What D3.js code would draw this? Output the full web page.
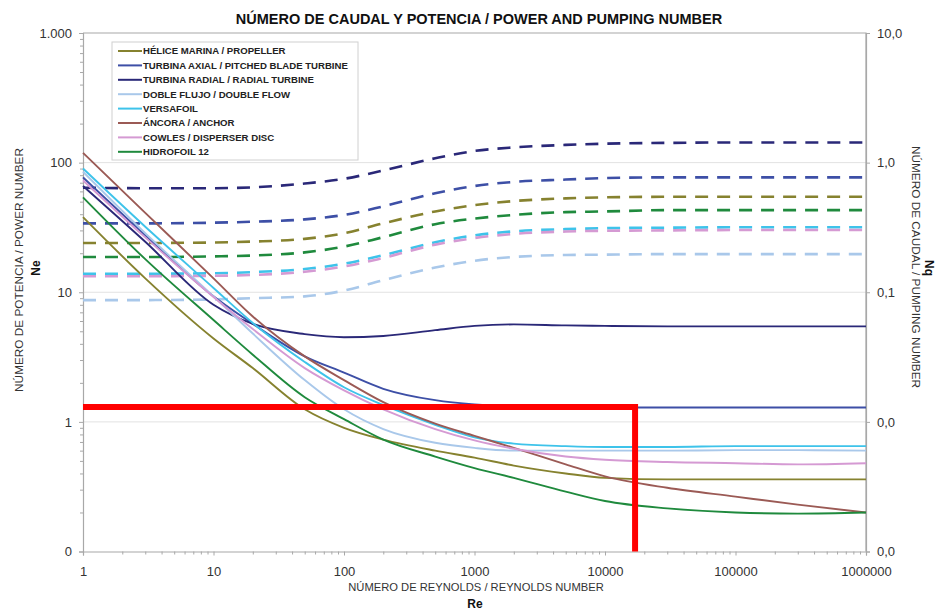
<!DOCTYPE html>
<html>
<head>
<meta charset="utf-8">
<script src="https://cdn.jsdelivr.net/npm/d3@7"></script>
<style>
  body { margin: 0; background: #fff; }
  svg { font-family: "Liberation Sans", Arial, sans-serif; }
</style>
</head>
<body>
<svg id="chart" width="938" height="610"></svg>
<script>
// Reynolds numbers where the curves were read
const RE = [1, 3, 10, 20, 50, 100, 200, 500, 1000, 2000, 5000, 10000, 30000, 100000, 300000, 1000000];

const SERIES_NAMES = [
  "HÉLICE MARINA / PROPELLER",
  "TURBINA AXIAL / PITCHED BLADE TURBINE",
  "TURBINA RADIAL / RADIAL TURBINE",
  "DOBLE FLUJO / DOUBLE FLOW",
  "VERSAFOIL",
  "ÁNCORA / ANCHOR",
  "COWLES / DISPERSER DISC",
  "HIDROFOIL 12",
];

// power number Ne (left axis)
const NE_PROPELLER = [38, 12.8, 4.4, 2.6, 1.25, 0.9, 0.73, 0.6, 0.53, 0.46, 0.4, 0.37, 0.36, 0.36, 0.36, 0.36];
const NE_PITCHED = [77, 27.5, 9.3, 5.7, 3.2, 2.4, 1.8, 1.47, 1.36, 1.31, 1.29, 1.29, 1.29, 1.29, 1.29, 1.29];
const NE_RADIAL = [66, 24.5, 8.0, 5.7, 4.75, 4.5, 4.6, 5.1, 5.5, 5.65, 5.55, 5.5, 5.45, 5.45, 5.45, 5.45];
const NE_DOUBLE = [85, 28.5, 9.3, 4.8, 2.1, 1.25, 0.88, 0.69, 0.63, 0.6, 0.6, 0.6, 0.6, 0.605, 0.605, 0.6];
const NE_VERSAFOIL = [90, 32, 10.8, 5.8, 2.9, 1.85, 1.35, 0.95, 0.76, 0.68, 0.65, 0.64, 0.64, 0.65, 0.65, 0.65];
const NE_ANCHOR = [119, 41, 12.8, 6.5, 3.2, 2.1, 1.42, 0.97, 0.78, 0.63, 0.47, 0.38, 0.31, 0.265, 0.23, 0.2];
const NE_COWLES = [73, 26.5, 9.2, 5.2, 2.6, 1.75, 1.25, 0.88, 0.72, 0.62, 0.54, 0.51, 0.49, 0.48, 0.47, 0.48];
const NE_HIDROFOIL = [54, 18, 6.1, 3.3, 1.55, 1.05, 0.73, 0.54, 0.44, 0.37, 0.29, 0.245, 0.215, 0.2, 0.196, 0.2];

// pumping number Nq (right axis)
const NQ_PROPELLER = [0.24, 0.24, 0.242, 0.246, 0.258, 0.285, 0.34, 0.42, 0.47, 0.505, 0.53, 0.54, 0.545, 0.545, 0.545, 0.545];
const NQ_PITCHED = [0.34, 0.34, 0.344, 0.35, 0.365, 0.395, 0.46, 0.58, 0.66, 0.71, 0.74, 0.76, 0.77, 0.77, 0.77, 0.77];
const NQ_RADIAL = [0.64, 0.635, 0.635, 0.645, 0.69, 0.75, 0.87, 1.08, 1.23, 1.31, 1.37, 1.4, 1.42, 1.43, 1.43, 1.43];
const NQ_DOUBLE = [0.087, 0.087, 0.088, 0.09, 0.093, 0.103, 0.124, 0.155, 0.175, 0.187, 0.194, 0.195, 0.197, 0.197, 0.197, 0.197];
const NQ_VERSAFOIL = [0.139, 0.139, 0.14, 0.143, 0.151, 0.166, 0.193, 0.243, 0.275, 0.295, 0.307, 0.312, 0.315, 0.317, 0.317, 0.317];
const NQ_COWLES = [0.133, 0.133, 0.134, 0.136, 0.144, 0.158, 0.184, 0.233, 0.262, 0.282, 0.294, 0.298, 0.3, 0.302, 0.302, 0.302];
const NQ_HIDROFOIL = [0.187, 0.187, 0.189, 0.192, 0.203, 0.225, 0.266, 0.335, 0.37, 0.395, 0.415, 0.42, 0.43, 0.43, 0.43, 0.43];

const X_TICKS = [1, 10, 100, 1000, 10000, 100000, 1000000];
const X_TICK_LABELS = ["1", "10", "100", "1000", "10000", "100000", "1000000"];
const LEFT_TICKS = [0.1, 1, 10, 100, 1000];
const LEFT_TICK_LABELS = ["0", "1", "10", "100", "1.000"];
const RIGHT_TICKS = [0.001, 0.01, 0.1, 1, 10];
const RIGHT_TICK_LABELS = ["0,0", "0,0", "0,1", "1,0", "10,0"];

// red reference mark
const REF_RE = 17000;
const REF_NE = 1.3;

const COLORS = ["#86822f", "#3d4fa6", "#2a2878", "#a9c8ea", "#3ec3ea", "#9b5a55", "#d59ad3", "#1f8a3d"];

const neSeries = [NE_PROPELLER, NE_PITCHED, NE_RADIAL, NE_DOUBLE, NE_VERSAFOIL, NE_ANCHOR, NE_COWLES, NE_HIDROFOIL];
// no pumping curve for the anchor
const nqSeries = [NQ_PROPELLER, NQ_PITCHED, NQ_RADIAL, NQ_DOUBLE, NQ_VERSAFOIL, null, NQ_COWLES, NQ_HIDROFOIL];

const svg = d3.select("#chart");
const margin = { top: 33, left: 83, right: 72, bottom: 58.5 };
const width = 938, height = 610;

const x = d3.scaleLog().domain([1, 1e6]).range([margin.left, width - margin.right]);
const y = d3.scaleLog().domain([0.1, 1000]).range([height - margin.bottom, margin.top]);
const yR = d3.scaleLog().domain([0.001, 10]).range([height - margin.bottom, margin.top]);

const axisGray = "#a8a8a8";

// grid lines
svg.append("g")
  .selectAll("line")
  .data([1, 10, 100])
  .join("line")
  .attr("x1", x(1)).attr("x2", x(1e6))
  .attr("y1", d => y(d)).attr("y2", d => y(d))
  .attr("stroke", "#e2e2e2").attr("stroke-width", 1);

// frame top & right
svg.append("path")
  .attr("d", `M${x(1)},${y(1000)}H${x(1e6)}V${y(0.1)}`)
  .attr("fill", "none").attr("stroke", axisGray).attr("stroke-width", 1.2);

function minorTicks(lo, hi) {
  const out = [];
  for (let p = lo; p < hi; p *= 10) {
    for (let k = 2; k <= 9; k++) out.push(p * k);
  }
  return out;
}

function styleAxis(g) {
  g.select(".domain").attr("stroke", axisGray).attr("stroke-width", 1.2);
  g.selectAll(".tick line").attr("stroke", axisGray);
  g.selectAll(".tick text").attr("fill", "#333").style("font-size", "13px");
}

// x axis
const xAxisG = svg.append("g")
  .attr("transform", `translate(0,${y(0.1)})`)
  .call(d3.axisBottom(x).tickValues(X_TICKS).tickSize(4).tickPadding(11)
    .tickFormat((d, i) => X_TICK_LABELS[i]));
styleAxis(xAxisG);
svg.append("g")
  .attr("transform", `translate(0,${y(0.1)})`)
  .call(d3.axisBottom(x).tickValues(minorTicks(1, 1e6)).tickSize(3).tickFormat(""))
  .call(g => { g.select(".domain").remove(); g.selectAll("line").attr("stroke", axisGray); });

// left axis
const yAxisG = svg.append("g")
  .attr("transform", `translate(${x(1)},0)`)
  .call(d3.axisLeft(y).tickValues(LEFT_TICKS).tickSize(4).tickPadding(7)
    .tickFormat((d, i) => LEFT_TICK_LABELS[i]));
styleAxis(yAxisG);
svg.append("g")
  .attr("transform", `translate(${x(1)},0)`)
  .call(d3.axisLeft(y).tickValues(minorTicks(0.1, 1000)).tickSize(3).tickFormat(""))
  .call(g => { g.select(".domain").remove(); g.selectAll("line").attr("stroke", axisGray); });

// right axis
const yRAxisG = svg.append("g")
  .attr("transform", `translate(${x(1e6)},0)`)
  .call(d3.axisRight(yR).tickValues(RIGHT_TICKS).tickSize(4).tickPadding(7)
    .tickFormat((d, i) => RIGHT_TICK_LABELS[i]));
styleAxis(yRAxisG);

// curves
const lineNe = d3.line()
  .x((d, i) => x(RE[i]))
  .y(d => y(d))
  .curve(d3.curveMonotoneX);
const lineNq = d3.line()
  .x((d, i) => x(RE[i]))
  .y(d => yR(d))
  .curve(d3.curveMonotoneX);

const plot = svg.append("g");

nqSeries.forEach((vals, i) => {
  if (!vals) return;
  plot.append("path")
    .attr("d", lineNq(vals))
    .attr("fill", "none")
    .attr("stroke", COLORS[i])
    .attr("stroke-width", 2.6)
    .attr("stroke-dasharray", "13,9");
});

neSeries.forEach((vals, i) => {
  plot.append("path")
    .attr("d", lineNe(vals))
    .attr("fill", "none")
    .attr("stroke", COLORS[i])
    .attr("stroke-width", 1.9);
});

// red reference lines
svg.append("path")
  .attr("d", `M${x(1)},${y(REF_NE)}H${x(REF_RE)}V${y(0.1)}`)
  .attr("fill", "none")
  .attr("stroke", "#ff0000")
  .attr("stroke-width", 6)
  .attr("stroke-linejoin", "miter");

// legend
const legend = svg.append("g").attr("transform", "translate(112,42)");
legend.append("rect")
  .attr("width", 246).attr("height", 118)
  .attr("fill", "#fff").attr("stroke", "#d0d0d0");
const rows = legend.selectAll(".row")
  .data(SERIES_NAMES)
  .join("g")
  .attr("transform", (d, i) => `translate(0,${9 + i * 14.4})`);
rows.append("line")
  .attr("x1", 6).attr("x2", 30)
  .attr("stroke", (d, i) => COLORS[i])
  .attr("stroke-width", 2);
rows.append("text")
  .attr("x", 31).attr("dy", "0.35em")
  .style("font-size", "9.6px").style("font-weight", "bold")
  .attr("fill", "#222")
  .text(d => d);

// titles
svg.append("text")
  .attr("x", 479).attr("y", 24)
  .attr("text-anchor", "middle")
  .style("font-size", "14.5px").style("font-weight", "bold")
  .attr("fill", "#111")
  .text("NÚMERO DE CAUDAL Y POTENCIA / POWER AND PUMPING NUMBER");

svg.append("text")
  .attr("x", 476).attr("y", 591)
  .attr("text-anchor", "middle")
  .style("font-size", "11.2px")
  .attr("fill", "#333")
  .text("NÚMERO DE REYNOLDS / REYNOLDS NUMBER");
svg.append("text")
  .attr("x", 475).attr("y", 608)
  .attr("text-anchor", "middle")
  .style("font-size", "12px").style("font-weight", "bold")
  .attr("fill", "#111")
  .text("Re");

svg.append("text")
  .attr("transform", "translate(23,270) rotate(-90)")
  .attr("text-anchor", "middle")
  .style("font-size", "11.8px")
  .attr("fill", "#333")
  .text("NÚMERO DE POTENCIA / POWER NUMBER");
svg.append("text")
  .attr("transform", "translate(40,268) rotate(-90)")
  .attr("text-anchor", "middle")
  .style("font-size", "12px").style("font-weight", "bold")
  .attr("fill", "#111")
  .text("Ne");

svg.append("text")
  .attr("transform", "translate(912,267) rotate(90)")
  .attr("text-anchor", "middle")
  .style("font-size", "11.8px")
  .attr("fill", "#333")
  .text("NÚMERO DE CAUDAL / PUMPING NUMBER");
svg.append("text")
  .attr("transform", "translate(925,268) rotate(90)")
  .attr("text-anchor", "middle")
  .style("font-size", "12px").style("font-weight", "bold")
  .attr("fill", "#111")
  .text("Nq");
</script>
</body>
</html>
